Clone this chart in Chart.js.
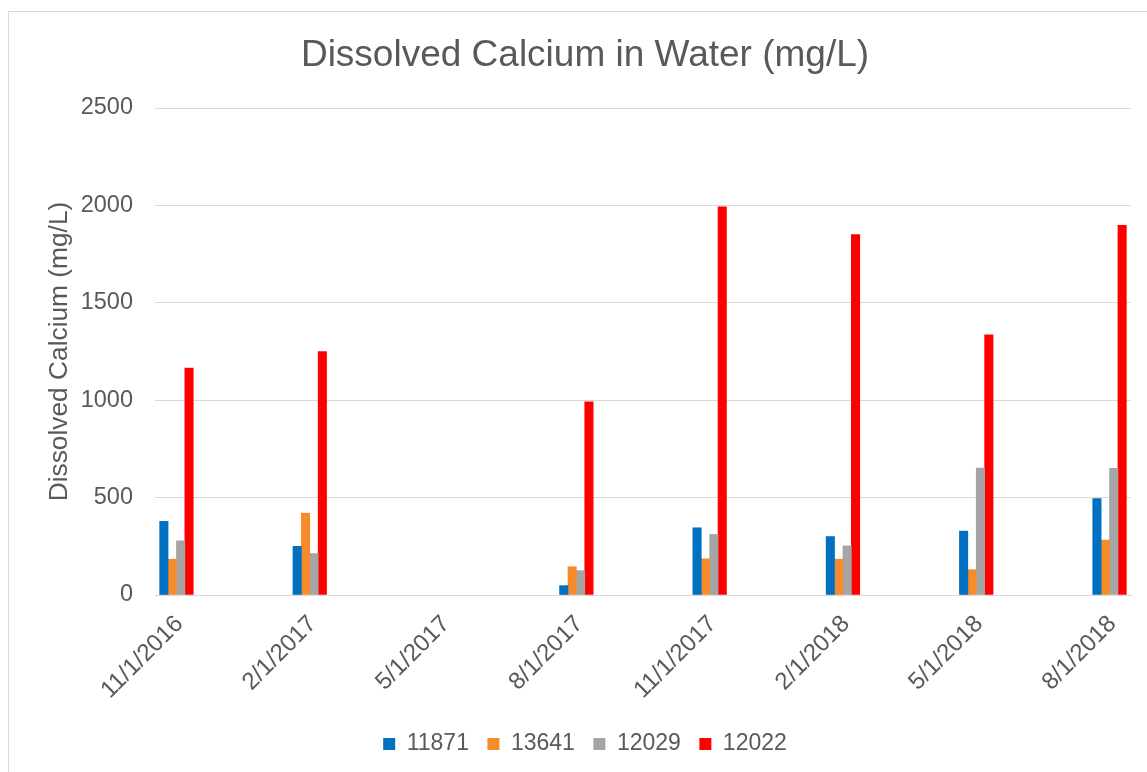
<!DOCTYPE html>
<html>
<head>
<meta charset="utf-8">
<script src="https://cdn.jsdelivr.net/npm/chart.js@4"></script>
<style>
  html, body { margin: 0; padding: 0; background: #fff; overflow: hidden; }
  #chartBox {
    position: absolute; left: 8px; top: 11px;
    width: 1160px; height: 780px;
    border: 1px solid #d9d9d9;
  }
</style>
</head>
<body>
<div id="chartBox"><canvas id="calciumChart" width="1138" height="760"></canvas></div>
<script>
// sample dates (quarterly), 5/1/2017 has no readings
const dates = ["11/1/2016", "2/1/2017", "5/1/2017", "8/1/2017", "11/1/2017", "2/1/2018", "5/1/2018", "8/1/2018"];

// dissolved calcium (mg/L) per well
const well11871 = [378, 250, null, 48, 345, 300, 328, 495];
const well13641 = [184, 420, null, 145, 186, 184, 130, 282];
const well12029 = [278, 213, null, 125, 311, 252, 652, 650];
const well12022 = [1165, 1250, null, 992, 1993, 1850, 1335, 1898];

const yTicks = [0, 500, 1000, 1500, 2000, 2500];

const textColor = "#595959";
const gridColor = "#d9d9d9";

// turn a series into {x, y} points on the date index
function toPoints(values) {
  return values.map((v, i) => ({ x: i, y: v }));
}

function makeSet(label, values, color) {
  return {
    label: label,
    data: toPoints(values),
    backgroundColor: color,
    borderWidth: 0,
    barThickness: 8.4
  };
}

var calciumChart = new Chart(document.getElementById("calciumChart"), {
  type: 'bar',
  data: {
    datasets: [
      makeSet("11871", well11871, "#0070C0"),
      makeSet("13641", well13641, "#F68B2A"),
      makeSet("12029", well12029, "#A5A5A5"),
      makeSet("12022", well12022, "#FF0000")
    ]
  },
  options: {
    responsive: false,
    animation: false,
    layout: { padding: { top: 0, left: 30, right: 16, bottom: 6.5 } },
    plugins: {
      tooltip: { enabled: false },
      title: {
        display: true,
        text: "Dissolved Calcium in Water (mg/L)",
        color: textColor,
        font: { family: "'Liberation Sans', Arial, sans-serif", size: 37, weight: 'normal' },
        padding: { top: 22, bottom: 29.6 }
      },
      legend: {
        position: 'bottom',
        labels: {
          color: textColor,
          font: { family: "'Liberation Sans', Arial, sans-serif", size: 23 },
          boxWidth: 12,
          boxHeight: 12,
          padding: 18.5
        }
      }
    },
    scales: {
      x: {
        type: 'linear',
        offset: false,
        min: -0.161,
        max: 7.161,
        afterBuildTicks: (axis) => { axis.ticks = dates.map((d, i) => ({ value: i })); },
        afterFit: (scale) => { scale.height = 119; },
        grid: { display: false, drawTicks: false, offset: false },
        border: { display: true, color: gridColor, width: 1 },
        ticks: {
          autoSkip: false,
          maxRotation: 45,
          minRotation: 45,
          padding: 15,
          labelOffset: 3,
          color: textColor,
          font: { family: "'Liberation Sans', Arial, sans-serif", size: 24 },
          callback: (v) => dates[v]
        }
      },
      y: {
        min: 0,
        max: 2500,
        afterBuildTicks: (axis) => { axis.ticks = yTicks.map(v => ({ value: v })); },
        afterFit: (scale) => { scale.width = 116; },
        grid: { color: gridColor, lineWidth: 1, drawTicks: false },
        border: { display: false },
        ticks: {
          padding: 22,
          color: textColor,
          font: { family: "'Liberation Sans', Arial, sans-serif", size: 23.5 },
          callback: (v) => String(v)
        },
        title: {
          display: true,
          text: "Dissolved Calcium (mg/L)",
          color: textColor,
          font: { family: "'Liberation Sans', Arial, sans-serif", size: 26.3 },
          padding: { top: 5.4, bottom: 0 }
        }
      }
    }
  }
});
</script>
</body>
</html>
